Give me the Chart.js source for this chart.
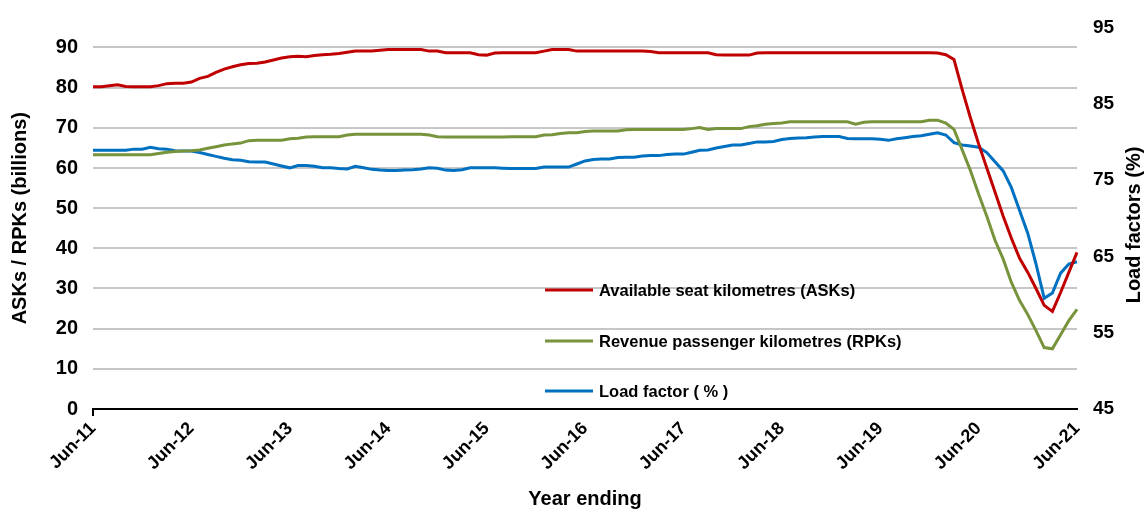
<!DOCTYPE html>
<html lang="en">
    <head>
        <meta charset="UTF-8" />
        <title>ASKs, RPKs and load factor</title>
        <script src="https://cdn.jsdelivr.net/npm/chart.js"></script>
        <style>
            body { margin: 0; background: #fff; }
            #wrap { width: 1146px; height: 511px; }
        </style>
    </head>
    <body>
        <div id="wrap"><canvas id="myChart"></canvas></div>

        <script>
            // monthly, year ending Jun-11 .. Jun-21
            const months = [
                "Jun-11","Jul-11","Aug-11","Sep-11","Oct-11","Nov-11","Dec-11","Jan-12","Feb-12","Mar-12","Apr-12","May-12",
                "Jun-12","Jul-12","Aug-12","Sep-12","Oct-12","Nov-12","Dec-12","Jan-13","Feb-13","Mar-13","Apr-13","May-13",
                "Jun-13","Jul-13","Aug-13","Sep-13","Oct-13","Nov-13","Dec-13","Jan-14","Feb-14","Mar-14","Apr-14","May-14",
                "Jun-14","Jul-14","Aug-14","Sep-14","Oct-14","Nov-14","Dec-14","Jan-15","Feb-15","Mar-15","Apr-15","May-15",
                "Jun-15","Jul-15","Aug-15","Sep-15","Oct-15","Nov-15","Dec-15","Jan-16","Feb-16","Mar-16","Apr-16","May-16",
                "Jun-16","Jul-16","Aug-16","Sep-16","Oct-16","Nov-16","Dec-16","Jan-17","Feb-17","Mar-17","Apr-17","May-17",
                "Jun-17","Jul-17","Aug-17","Sep-17","Oct-17","Nov-17","Dec-17","Jan-18","Feb-18","Mar-18","Apr-18","May-18",
                "Jun-18","Jul-18","Aug-18","Sep-18","Oct-18","Nov-18","Dec-18","Jan-19","Feb-19","Mar-19","Apr-19","May-19",
                "Jun-19","Jul-19","Aug-19","Sep-19","Oct-19","Nov-19","Dec-19","Jan-20","Feb-20","Mar-20","Apr-20","May-20",
                "Jun-20","Jul-20","Aug-20","Sep-20","Oct-20","Nov-20","Dec-20","Jan-21","Feb-21","Mar-21","Apr-21","May-21",
                "Jun-21",
            ];
            // only these get a label + tick mark
            const tickLabels = ["Jun-11","Jun-12","Jun-13","Jun-14","Jun-15","Jun-16","Jun-17","Jun-18","Jun-19","Jun-20","Jun-21"];
            const leftTicks = [0, 10, 20, 30, 40, 50, 60, 70, 80, 90];
            const rightTicks = [45, 55, 65, 75, 85, 95];

            // available seat kilometres (billions)
            const asks = [
                80.2, 80.2, 80.5, 80.7, 80.3, 80.2, 80.2, 80.2, 80.5, 81.0, 81.1, 81.1,
                81.4, 82.3, 82.8, 83.8, 84.6, 85.2, 85.7, 86.0, 86.1, 86.4, 86.9, 87.4,
                87.7, 87.8, 87.7, 88.0, 88.2, 88.3, 88.5, 88.8, 89.1, 89.1, 89.1, 89.3,
                89.5, 89.5, 89.5, 89.5, 89.5, 89.1, 89.1, 88.7, 88.7, 88.7, 88.7, 88.2,
                88.1, 88.6, 88.7, 88.7, 88.7, 88.7, 88.7, 89.1, 89.5, 89.5, 89.5, 89.1,
                89.1, 89.1, 89.1, 89.1, 89.1, 89.1, 89.1, 89.1, 89.0, 88.7, 88.7, 88.7,
                88.7, 88.7, 88.7, 88.7, 88.2, 88.1, 88.1, 88.1, 88.1, 88.6, 88.7, 88.7,
                88.7, 88.7, 88.7, 88.7, 88.7, 88.7, 88.7, 88.7, 88.7, 88.7, 88.7, 88.7,
                88.7, 88.7, 88.7, 88.7, 88.7, 88.7, 88.7, 88.6, 88.2, 87.0, 79.5, 72.5,
                66.0, 60.0, 54.0, 48.0, 42.5, 37.5, 34.0, 30.0, 25.8, 24.3, 29.0, 34.0,
                39.0,
            ];
            // revenue passenger kilometres (billions)
            const rpks = [
                63.3, 63.3, 63.3, 63.3, 63.3, 63.3, 63.3, 63.3, 63.6, 63.9, 64.1, 64.2,
                64.3, 64.5, 64.9, 65.3, 65.7, 66.0, 66.2, 66.8, 66.9, 66.9, 66.9, 66.9,
                67.3, 67.4, 67.7, 67.8, 67.8, 67.8, 67.8, 68.2, 68.4, 68.4, 68.4, 68.4,
                68.4, 68.4, 68.4, 68.4, 68.4, 68.2, 67.8, 67.7, 67.7, 67.7, 67.7, 67.7,
                67.7, 67.7, 67.7, 67.8, 67.8, 67.8, 67.8, 68.2, 68.3, 68.6, 68.8, 68.8,
                69.1, 69.2, 69.2, 69.2, 69.2, 69.5, 69.6, 69.6, 69.6, 69.6, 69.6, 69.6,
                69.6, 69.8, 70.1, 69.6, 69.8, 69.8, 69.8, 69.8, 70.3, 70.5, 70.9, 71.1,
                71.2, 71.5, 71.5, 71.5, 71.5, 71.5, 71.5, 71.5, 71.5, 70.9, 71.4, 71.5,
                71.5, 71.5, 71.5, 71.5, 71.5, 71.5, 71.9, 71.9, 71.2, 69.6, 64.5, 59.4,
                53.5, 48.0, 42.0, 37.3, 31.5, 27.0, 23.5, 19.5, 15.3, 15.0, 18.5, 22.0,
                24.8,
            ];
            // load factor (%), right axis
            const loadFactor = [
                78.9, 78.9, 78.9, 78.9, 78.9, 79.05, 79.05, 79.3, 79.1, 79.05, 78.85, 78.8,
                78.8, 78.6, 78.35, 78.1, 77.85, 77.65, 77.6, 77.4, 77.35, 77.35, 77.1, 76.85,
                76.6, 76.9, 76.9, 76.8, 76.6, 76.6, 76.5, 76.45, 76.8, 76.6, 76.4, 76.3,
                76.25, 76.25, 76.3, 76.35, 76.45, 76.6, 76.55, 76.3, 76.25, 76.35, 76.6, 76.6,
                76.6, 76.6, 76.55, 76.5, 76.5, 76.5, 76.5, 76.7, 76.7, 76.7, 76.7, 77.1,
                77.5, 77.7, 77.75, 77.75, 77.95, 78.0, 78.0, 78.15, 78.2, 78.2, 78.35, 78.4,
                78.4, 78.65, 78.9, 78.95, 79.2, 79.4, 79.6, 79.6, 79.8, 80.0, 80.0, 80.05,
                80.3, 80.45, 80.5, 80.55, 80.65, 80.7, 80.7, 80.7, 80.45, 80.4, 80.4, 80.4,
                80.35, 80.2, 80.4, 80.55, 80.7, 80.8, 81.0, 81.2, 80.9, 79.9, 79.6, 79.45,
                79.3, 78.6, 77.4, 76.2, 74.0, 71.0, 68.0, 64.0, 59.5, 60.2, 62.8, 64.0,
                64.3,
            ];

            const seriesNames = [
                "Available seat kilometres (ASKs)",
                "Revenue passenger kilometres (RPKs)",
                "Load factor ( % )",
            ];
            const seriesColors = ["#C00000", "#77933C", "#0070C0"];

            const FONT = "'Liberation Sans', Arial, sans-serif";

            const ctx = document.getElementById("myChart").getContext("2d");
            const myChart = new Chart(ctx, {
                type: "line",
                data: {
                    labels: months,
                    datasets: [
                        { label: seriesNames[0], data: asks, borderColor: seriesColors[0], yAxisID: "y" },
                        { label: seriesNames[1], data: rpks, borderColor: seriesColors[1], yAxisID: "y" },
                        { label: seriesNames[2], data: loadFactor, borderColor: seriesColors[2], yAxisID: "y1" },
                    ],
                },
                options: {
                    responsive: true,
                    maintainAspectRatio: false,
                    animation: false,
                    layout: { padding: { top: 22, left: 0, right: 0, bottom: 0 } },
                    elements: {
                        line: { borderWidth: 3, tension: 0, fill: false },
                        point: { radius: 0, hoverRadius: 0 },
                    },
                    plugins: {
                        legend: { display: false }, // drawn by hand below
                        tooltip: { enabled: false },
                    },
                    scales: {
                        x: {
                            offset: false,
                            border: { color: "#000", width: 2 },
                            grid: {
                                drawOnChartArea: false,
                                drawTicks: true,
                                tickLength: 7,
                                lineWidth: 2,
                                color: (c) => (c.index % 12 === 0 ? "#000" : "rgba(0,0,0,0)"),
                            },
                            ticks: {
                                autoSkip: false,
                                maxRotation: 45,
                                minRotation: 45,
                                padding: 2,
                                color: "#000",
                                font: { family: FONT, size: 18, weight: "bold" },
                                callback: (v, i) => (i % 12 === 0 ? tickLabels[i / 12] : null),
                            },
                            title: {
                                display: true,
                                text: "Year ending",
                                color: "#000",
                                font: { family: FONT, size: 20, weight: "bold" },
                                padding: { top: 0, bottom: 0 },
                            },
                            afterFit: (s) => { s.height = 102; },
                        },
                        y: {
                            position: "left",
                            min: 0,
                            max: 95,
                            border: { display: false },
                            grid: { color: "#c6c6c6", lineWidth: 2, drawTicks: false },
                            ticks: {
                                padding: 15,
                                color: "#000",
                                font: { family: FONT, size: 20, weight: "bold" },
                            },
                            title: {
                                display: true,
                                text: "ASKs / RPKs (billions)",
                                color: "#000",
                                font: { family: FONT, size: 20, weight: "bold" },
                                padding: { top: 8, bottom: 0 },
                            },
                            // axis runs to 95 but labels/gridlines stop at 90
                            afterBuildTicks: (s) => { s.ticks = leftTicks.map((v) => ({ value: v })); },
                            afterFit: (s) => { s.width = 93; },
                        },
                        y1: {
                            position: "right",
                            min: 45,
                            max: 95,
                            border: { display: false },
                            grid: { drawOnChartArea: false, drawTicks: false },
                            ticks: {
                                padding: 16,
                                color: "#000",
                                font: { family: FONT, size: 19, weight: "bold" },
                            },
                            afterBuildTicks: (s) => { s.ticks = rightTicks.map((v) => ({ value: v })); },
                            afterFit: (s) => { s.width = 69; },
                        },
                    },
                },
                plugins: [
                    {
                        id: "handDrawn",
                        afterDraw: function (chart) {
                            const c = chart.ctx;
                            c.save();

                            // right axis title reads bottom-to-top like the left one
                            c.fillStyle = "#000";
                            c.font = "bold 20px " + FONT;
                            c.textAlign = "center";
                            c.textBaseline = "middle";
                            c.translate(1134, 225);
                            c.rotate(-Math.PI / 2);
                            c.fillText("Load factors (%)", 0, 0);
                            c.setTransform(1, 0, 0, 1, 0, 0);

                            // legend sitting inside the plot
                            const rows = [290, 341, 391];
                            c.font = "bold 16.5px " + FONT;
                            c.textAlign = "left";
                            c.lineWidth = 3;
                            chart.data.datasets.forEach((ds, i) => {
                                c.strokeStyle = ds.borderColor;
                                c.beginPath();
                                c.moveTo(545, rows[i]);
                                c.lineTo(593, rows[i]);
                                c.stroke();
                                c.fillText(ds.label, 599, rows[i] + 1);
                            });
                            c.restore();
                        },
                    },
                ],
            });
        </script>
    </body>
</html>
